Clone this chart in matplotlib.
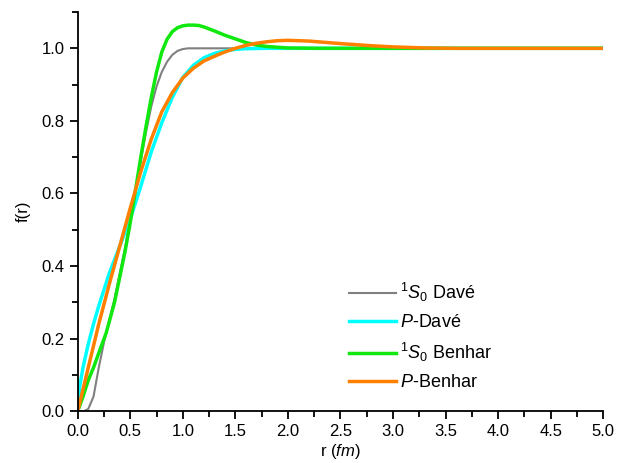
import numpy as np
import matplotlib
matplotlib.use("Agg")
import matplotlib.pyplot as plt
from matplotlib.ticker import MultipleLocator

plt.rcParams['font.family'] = ['Liberation Sans', 'DejaVu Sans']
plt.rcParams['mathtext.fontset'] = 'custom'
plt.rcParams['mathtext.rm'] = 'Liberation Sans'
plt.rcParams['mathtext.it'] = 'Liberation Sans:italic'

# 1S0 Dave
r_s_dave = [0, 0.06, 0.1, 0.15, 0.2, 0.25, 0.3, 0.35, 0.4, 0.45, 0.5, 0.55, 0.6, 0.65, 0.7,
            0.75, 0.8, 0.85, 0.9, 0.95, 1.0, 1.05, 1.1, 1.2, 1.5, 2.0, 3.0, 4.0, 5.0]
f_s_dave = [0, 0, 0.006, 0.04, 0.12, 0.19, 0.25, 0.31, 0.38, 0.45, 0.53, 0.61, 0.69, 0.77, 0.84,
            0.895, 0.935, 0.963, 0.982, 0.993, 0.998, 1.0, 1.0, 1.0, 1.0, 1.0, 1.0, 1.0, 1.0]

# P Dave
r_p_dave = [0, 0.02, 0.05, 0.1, 0.15, 0.2, 0.25, 0.3, 0.4, 0.5, 0.6, 0.7, 0.8, 0.9, 1.0,
            1.1, 1.2, 1.3, 1.4, 1.5, 1.6, 1.8, 2.0, 3.0, 4.0, 5.0]
f_p_dave = [0, 0.07, 0.12, 0.185, 0.24, 0.29, 0.335, 0.38, 0.455, 0.53, 0.62, 0.715, 0.795, 0.865, 0.92,
            0.953, 0.974, 0.986, 0.993, 0.997, 0.999, 1.0, 1.0, 1.0, 1.0, 1.0]

# 1S0 Benhar
r_s_ben = [0, 0.05, 0.1, 0.15, 0.2, 0.27, 0.35, 0.4, 0.45, 0.5, 0.55, 0.6, 0.65, 0.7, 0.75,
           0.8, 0.85, 0.9, 0.95, 1.0, 1.05, 1.1, 1.15, 1.2, 1.3, 1.4, 1.5, 1.6, 1.7, 1.8, 2.0,
           2.3, 3.0, 4.0, 5.0]
f_s_ben = [0, 0.04, 0.085, 0.12, 0.16, 0.215, 0.3, 0.37, 0.44, 0.52, 0.61, 0.70, 0.785, 0.865, 0.935,
           0.99, 1.025, 1.046, 1.057, 1.062, 1.064, 1.064, 1.063, 1.059, 1.048, 1.036, 1.026, 1.016, 1.009, 1.005, 1.001,
           1.0, 1.0, 1.0, 1.0]

# P Benhar
r_p_ben = [0, 0.1, 0.2, 0.3, 0.4, 0.5, 0.6, 0.7, 0.8, 0.9, 1.0, 1.1, 1.2, 1.3, 1.4,
           1.5, 1.6, 1.7, 1.8, 1.9, 2.0, 2.2, 2.5, 2.8, 3.0, 3.3, 3.6, 4.0, 5.0]
f_p_ben = [0, 0.12, 0.24, 0.35, 0.455, 0.56, 0.66, 0.75, 0.825, 0.878, 0.918, 0.945, 0.965, 0.978, 0.99,
           1.0, 1.008, 1.014, 1.018, 1.021, 1.022, 1.02, 1.013, 1.007, 1.004, 1.001, 1.0, 1.0, 1.0]

labels = [r'$^{1}\mathit{S}_{0}$ Davé', r'$\mathit{P}$-Davé',
          r'$^{1}\mathit{S}_{0}$ Benhar', r'$\mathit{P}$-Benhar']

fig = plt.figure(figsize=(6.27, 4.63), dpi=100)
ax = fig.add_axes([0.124, 0.112, 0.838, 0.862])

ax.plot(r_s_dave, f_s_dave, color='#808080', lw=1.5, label=labels[0])
ax.plot(r_p_dave, f_p_dave, color='#00ffff', lw=2.5, label=labels[1])
ax.plot(r_s_ben, f_s_ben, color='#10e810', lw=2.5, label=labels[2])
ax.plot(r_p_ben, f_p_ben, color='#ff8000', lw=2.5, label=labels[3])

ax.set_xlim(0, 5)
ax.set_ylim(0, 1.1)
ax.xaxis.set_major_locator(MultipleLocator(0.5))
ax.xaxis.set_minor_locator(MultipleLocator(0.25))
ax.yaxis.set_major_locator(MultipleLocator(0.2))
ax.yaxis.set_minor_locator(MultipleLocator(0.1))
ax.tick_params(which='major', direction='out', length=6, width=1.3, labelsize=12)
ax.tick_params(which='minor', direction='out', length=4, width=1.3)
for s in ['top', 'right']:
    ax.spines[s].set_visible(False)
for s in ['left', 'bottom']:
    ax.spines[s].set_linewidth(1.3)

ax.set_xlabel(r'r ($\mathit{fm}$)', fontsize=12, labelpad=2)
ax.set_ylabel('f(r)', fontsize=12, labelpad=8)

ax.legend(loc='lower left', bbox_to_anchor=(0.485, 0.01), frameon=False, fontsize=13,
          handlelength=2.6, labelspacing=0.55, handletextpad=0.25)

fig.savefig('out.png', dpi=100)
